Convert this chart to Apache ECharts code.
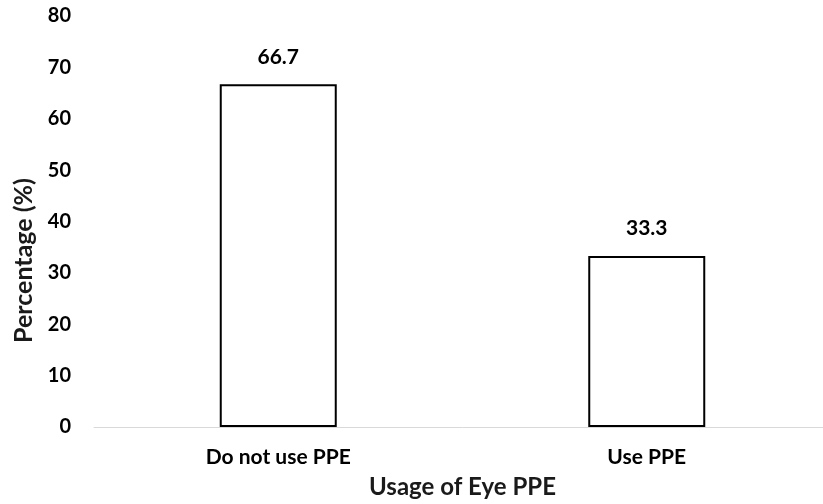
<!DOCTYPE html>
<html>
<head>
<meta charset="utf-8">
<script src="https://cdn.jsdelivr.net/npm/echarts@6/dist/echarts.min.js"></script>
<style>
html,body{margin:0;padding:0;background:#fff;overflow:hidden;}
/* the plot runs slightly past the right edge of the window */
#chart{width:831px;height:504px;}
</style>
</head>
<body>
<div id="chart"></div>
<script>
// Eye PPE usage shares
const categories = ['Do not use PPE', 'Use PPE'];
const percentages = [66.7, 33.3];
const yTicks = { min: 0, max: 80, interval: 10 };

const FONT = 'Lato, "Open Sans", sans-serif';
const WEIGHT = 'bold';

const chart = echarts.init(document.getElementById('chart'), null, { renderer: 'canvas' });
chart.setOption({
  animation: false,
  backgroundColor: '#ffffff',
  grid: { left: 94, right: 0, top: 16, bottom: 73, containLabel: false },
  xAxis: {
    type: 'category',
    data: categories,
    name: 'Usage of Eye PPE',
    nameLocation: 'middle',
    nameGap: 48,
    nameTextStyle: { fontFamily: FONT, fontWeight: WEIGHT, fontSize: 24, color: '#1a1a1a' },
    axisLine: { lineStyle: { color: '#d9d9d9', width: 1 } },
    axisTick: { show: false },
    axisLabel: { fontFamily: FONT, fontWeight: WEIGHT, fontSize: 21, color: '#000', margin: 20 }
  },
  yAxis: {
    type: 'value',
    min: yTicks.min,
    max: yTicks.max,
    interval: yTicks.interval,
    name: 'Percentage (%)',
    nameLocation: 'middle',
    nameGap: 58,
    // title sits a little below the middle of the axis
    nameTextStyle: { fontFamily: FONT, fontWeight: WEIGHT, fontSize: 25, color: '#1a1a1a', padding: [0, 78, 0, 0] },
    axisLine: { show: false },
    axisTick: { show: false },
    splitLine: { show: false },
    axisLabel: { fontFamily: FONT, fontWeight: WEIGHT, fontSize: 20, color: '#000', margin: 23 }
  },
  series: [{
    type: 'bar',
    data: percentages,
    barWidth: 117,
    itemStyle: { color: '#ffffff', borderColor: '#000000', borderWidth: 2 },
    label: {
      show: true,
      position: 'top',
      distance: 17,
      fontFamily: FONT,
      fontWeight: WEIGHT,
      fontSize: 21,
      color: '#000',
      formatter: p => p.value.toFixed(1)
    }
  }]
});
</script>
</body>
</html>
